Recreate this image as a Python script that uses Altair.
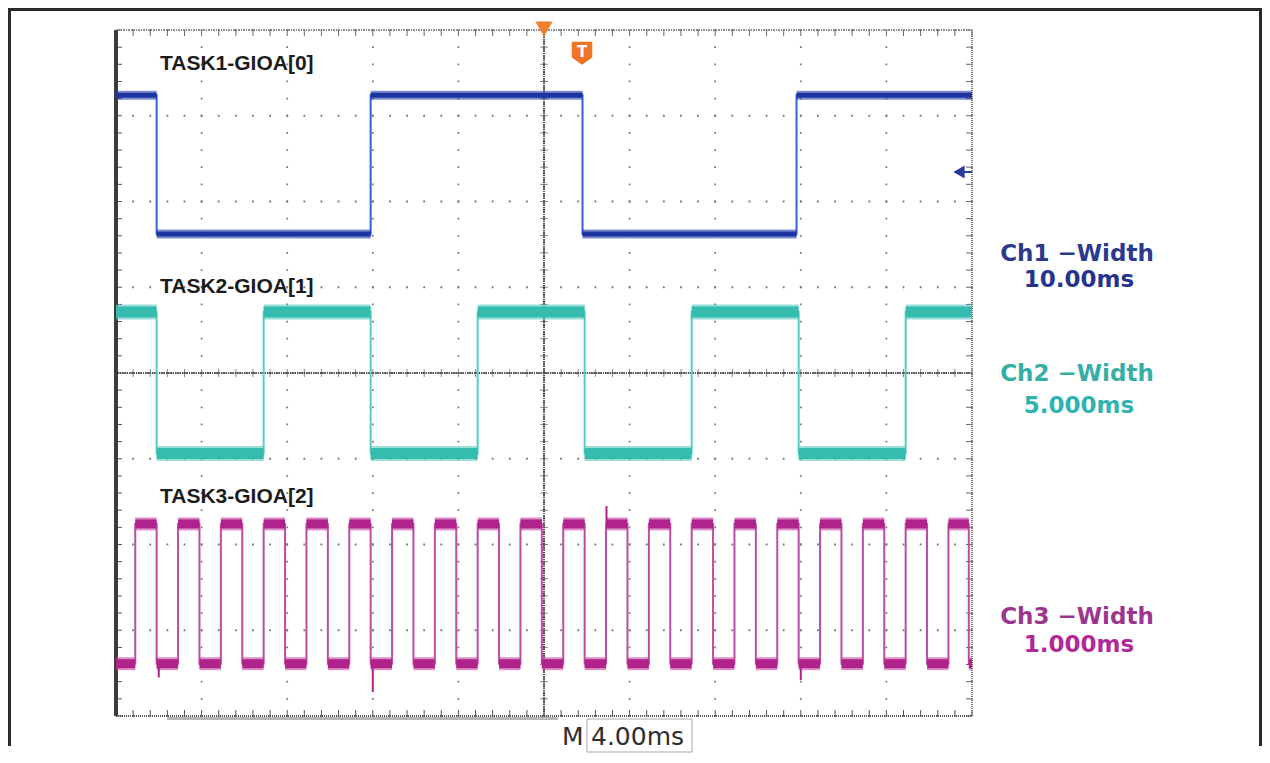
import altair as alt
import pandas as pd

# ---------------- data ----------------
# time in ms relative to trigger (4 ms/div, 10 div); vertical in divisions (0..8)
x_major = [-20, -16, -12, -8, -4, 0, 4, 8, 12, 16, 20]
y_major = [0, 1, 2, 3, 4, 5, 6, 7, 8]
x_minor = [round(-20 + 0.8 * i, 2) for i in range(51)]
y_minor = [round(0.2 * i, 2) for i in range(41)]

# Ch1 (TASK1) edge times and logic states
ch1_t = [-20.0, -18.1, -8.1, 1.8, 11.8, 20.0]
ch1_s = [1, 0, 1, 0, 1, 1]
ch1_hi, ch1_lo = 7.24, 5.62

# Ch2 (TASK2)
ch2_t = [-20.0, -18.1, -13.1, -8.1, -3.1, 1.9, 6.9, 11.9, 16.9, 20.0]
ch2_s = [1, 0, 1, 0, 1, 0, 1, 0, 1, 1]
ch2_hi, ch2_lo = 4.71, 3.06

# Ch3 (TASK3)
ch3_t = [-20.0, -19.1, -18.1, -17.1, -16.1, -15.1, -14.1, -13.1, -12.1, -11.1,
         -10.1, -9.1, -8.1, -7.1, -6.1, -5.1, -4.1, -3.1, -2.1, -1.1,
         -0.1, 0.9, 1.9, 2.9, 3.9, 4.9, 5.9, 6.9, 7.9, 8.9,
         9.9, 10.9, 11.9, 12.9, 13.9, 14.9, 15.9, 16.9, 17.9, 18.9,
         19.85, 20.0]
ch3_s = [0, 1, 0, 1, 0, 1, 0, 1, 0, 1,
         0, 1, 0, 1, 0, 1, 0, 1, 0, 1,
         0, 1, 0, 1, 0, 1, 0, 1, 0, 1,
         0, 1, 0, 1, 0, 1, 0, 1, 0, 1,
         0, 0]
ch3_hi, ch3_lo = 2.24, 0.61
# a few overshoot spikes seen on Ch3 edges (time, tip level)
ch3_spike_t = [-18.0, -8.0, 2.92, 12.0]
ch3_spike_v = [0.45, 0.28, 2.45, 0.42]

task_labels = ["TASK1-GIOA[0]", "TASK2-GIOA[1]", "TASK3-GIOA[2]"]
ch_titles = ["Ch1 \u2212Width", "Ch2 \u2212Width", "Ch3 \u2212Width"]
ch_widths = ["10.00ms", "5.000ms", "1.000ms"]
timebase = "4.00ms"

# ---------------- layout ----------------
W, H = 856, 686
PAD = {"left": 108, "top": 22, "right": 1254 - 108 - W, "bottom": 745 - 22 - H}

xs = alt.Scale(domain=[-20, 20], nice=False, zero=False)
ys = alt.Scale(domain=[0, 8], nice=False, zero=False)


def X(f):
    return alt.X(f, type="quantitative", scale=xs, axis=None)


def Y(f):
    return alt.Y(f, type="quantitative", scale=ys, axis=None)


def XD(v):
    return alt.XDatum(v, type="quantitative", scale=xs, axis=None)


def YD(v):
    return alt.YDatum(v, type="quantitative", scale=ys, axis=None)


gx = pd.DataFrame({"t": x_major})
gy = pd.DataFrame({"v": y_major})
mx = pd.DataFrame({"t": x_minor})
my = pd.DataFrame({"v": y_minor})

layers = []
# dotted graticule
layers.append(alt.Chart(gx).mark_rule(color="#7a7a7a", strokeWidth=1.8,
                                      strokeDash=[1.8, 15.35], strokeDashOffset=0.9)
              .encode(x=X("t")))
layers.append(alt.Chart(gy).mark_rule(color="#7a7a7a", strokeWidth=1.8,
                                      strokeDash=[1.8, 15.32], strokeDashOffset=0.9)
              .encode(y=Y("v")))
# center cross
layers.append(alt.Chart(gx).mark_rule(color="#555", strokeWidth=1, strokeDash=[1, 1.3])
              .encode(x=XD(0)))
layers.append(alt.Chart(gy).mark_rule(color="#555", strokeWidth=1, strokeDash=[1, 1.3])
              .encode(y=YD(4)))
layers.append(alt.Chart(my).mark_tick(orient="horizontal", size=8, thickness=1, color="#555")
              .encode(x=XD(0), y=Y("v")))
layers.append(alt.Chart(mx).mark_tick(orient="vertical", size=8, thickness=1, color="#555")
              .encode(x=X("t"), y=YD(4)))
# edge ticks
layers.append(alt.Chart(mx).mark_rule(color="#666", strokeWidth=1)
              .encode(x=X("t"), y=alt.value(0), y2=alt.value(6)))
layers.append(alt.Chart(mx).mark_rule(color="#555", strokeWidth=1)
              .encode(x=X("t"), y=alt.value(H), y2=alt.value(H - 6)))
layers.append(alt.Chart(my).mark_rule(color="#555", strokeWidth=1)
              .encode(y=Y("v"), x=alt.value(0), x2=alt.value(6)))
layers.append(alt.Chart(my).mark_rule(color="#666", strokeWidth=1)
              .encode(y=Y("v"), x=alt.value(W), x2=alt.value(W - 6)))
# edges of graticule
layers.append(alt.Chart(gx).mark_rule(color="#3a3a3a", strokeWidth=2.5)
              .encode(x=alt.value(0), y=alt.value(0), y2=alt.value(H)))
layers.append(alt.Chart(gx).mark_rule(color="#777", strokeWidth=2, strokeDash=[1, 1])
              .encode(x=alt.value(W), y=alt.value(0), y2=alt.value(H)))
layers.append(alt.Chart(gx).mark_rule(color="#888", strokeWidth=1, strokeDash=[1, 1.5])
              .encode(x=alt.value(0), x2=alt.value(W), y=alt.value(0)))
layers.append(alt.Chart(gx).mark_rule(color="#555", strokeWidth=1.6, strokeDash=[1, 1])
              .encode(x=alt.value(0), x2=alt.value(W), y=alt.value(H)))
# record-length bar under the graticule
layers.append(alt.Chart(gx).mark_rule(color="#b5b5b5", strokeWidth=2)
              .encode(x=alt.value(51), x2=alt.value(442), y=alt.value(H + 2.5)))


def trace(t, s, hi, lo, edge_col, band_col, core_col, band_w):
    lv = [lo + (hi - lo) * k for k in s]
    pts = pd.DataFrame({"t": t, "v": lv})
    segs = pd.DataFrame({"t": t[:-1], "t2": t[1:], "v": lv[:-1]})
    out = [
        alt.Chart(pts).mark_line(interpolate="step-after", color=edge_col, strokeWidth=2)
        .encode(x=X("t"), y=Y("v")),
        alt.Chart(segs).mark_rule(color=band_col, strokeWidth=band_w, opacity=0.6)
        .encode(x=X("t"), x2="t2", y=Y("v")),
        alt.Chart(segs).mark_rule(color=core_col, strokeWidth=band_w - 4)
        .encode(x=X("t"), x2="t2", y=Y("v")),
    ]
    return out


layers += trace(ch1_t, ch1_s, ch1_hi, ch1_lo, "#3463cf", "#2a45b0", "#1d34a0", 9)
layers += trace(ch2_t, ch2_s, ch2_hi, ch2_lo, "#55cdc2", "#56cbbf", "#35bcae", 15)
layers += trace(ch3_t, ch3_s, ch3_hi, ch3_lo, "#c04aa6", "#c44aa4", "#b0228c", 13)

# Ch3 overshoot spikes: from the nearest level to the tip
sp = pd.DataFrame({"t": ch3_spike_t, "v": ch3_spike_v,
                   "base": [ch3_lo if v < 1.5 else ch3_hi for v in ch3_spike_v]})
layers.append(alt.Chart(sp).mark_rule(color="#b0228c", strokeWidth=2)
              .encode(x=X("t"), y=Y("v"), y2="base"))

# task labels
lab = pd.DataFrame({"txt": task_labels, "py": [40, 263, 473]})
layers.append(alt.Chart(lab).mark_text(align="left", baseline="alphabetic", font="Liberation Sans",
                                       fontWeight="bold", fontSize=21, color="#1c1c1c")
              .encode(text="txt:N", x=alt.value(44), y=alt.Y("py:Q", scale=None, axis=None)))

# channel width readouts
ch_cols = ["#2b3a8e", "#36aea6", "#9c3590"]
ch_cols2 = ["#24348e", "#2fb3ae", "#b0289a"]
title_y = [231, 351, 594]
width_y = [257, 383, 622]
for i in range(3):
    d = pd.DataFrame({"a": [ch_titles[i]], "b": [ch_widths[i]]})
    layers.append(alt.Chart(d).mark_text(align="center", baseline="alphabetic", font="DejaVu Sans",
                                         fontWeight="bold", fontSize=23, color=ch_cols[i])
                  .encode(text="a:N", x=alt.value(961), y=alt.value(title_y[i])))
    layers.append(alt.Chart(d).mark_text(align="center", baseline="alphabetic", font="DejaVu Sans",
                                         fontWeight="bold", fontSize=23, color=ch_cols2[i])
                  .encode(text="b:N", x=alt.value(963), y=alt.value(width_y[i])))

# time base readout
tb = pd.DataFrame({"m": ["M"], "tb": [timebase]})
layers.append(alt.Chart(tb).mark_rect(fill="white", stroke="#a8a8a8", strokeWidth=1)
              .encode(x=alt.value(471), x2=alt.value(576), y=alt.value(689), y2=alt.value(722)))
layers.append(alt.Chart(tb).mark_text(align="left", baseline="alphabetic", font="DejaVu Sans",
                                      fontSize=25, color="#2e2e2e")
              .encode(text="m:N", x=alt.value(446), y=alt.value(715)))
layers.append(alt.Chart(tb).mark_text(align="left", baseline="alphabetic", font="DejaVu Sans",
                                      fontSize=25, color="#2e2e2e")
              .encode(text="tb:N", x=alt.value(475), y=alt.value(715)))

# trigger markers
layers.append(alt.Chart(tb).mark_point(shape="triangle-down", filled=True, size=300,
                                       color="#f0802a", opacity=1)
              .encode(x=XD(0), y=alt.value(-1)))
layers.append(alt.Chart(tb).mark_point(shape="M -1 -1.1 L 1 -1.1 L 1 0.45 L 0 1.15 L -1 0.45 Z",
                                       filled=True, size=420, color="#f07424", opacity=1)
              .encode(x=alt.value(466), y=alt.value(23)))
layers.append(alt.Chart(tb).mark_text(text="T", font="DejaVu Sans", fontWeight="bold", fontSize=15,
                                      color="white", baseline="middle", align="center")
              .encode(x=alt.value(466), y=alt.value(22)))
# ch1 ground reference arrow
layers.append(alt.Chart(tb).mark_point(shape="triangle-left", filled=True, size=170,
                                       color="#2a3a9a", opacity=1)
              .encode(x=alt.value(843), y=alt.value(142)))
layers.append(alt.Chart(tb).mark_rule(color="#2a3a9a", strokeWidth=2)
              .encode(x=alt.value(845), x2=alt.value(W), y=alt.value(142)))

# outer frame of the figure
layers.append(alt.Chart(tb).mark_rule(color="#2a2a2a", strokeWidth=3)
              .encode(x=alt.value(-108), x2=alt.value(1146), y=alt.value(-20.5)))
layers.append(alt.Chart(tb).mark_rule(color="#2a2a2a", strokeWidth=3)
              .encode(x=alt.value(-106.5), y=alt.value(-22), y2=alt.value(716)))
layers.append(alt.Chart(tb).mark_rule(color="#2a2a2a", strokeWidth=3)
              .encode(x=alt.value(1144.5), y=alt.value(-22), y2=alt.value(716)))

chart = (alt.layer(*layers)
         .properties(width=W, height=H, padding=PAD,
                     autosize=alt.AutoSizeParams(type="none"), background="white")
         .configure_view(stroke=None))

chart.save("out.html", embed_options={"renderer": "svg", "actions": False})
